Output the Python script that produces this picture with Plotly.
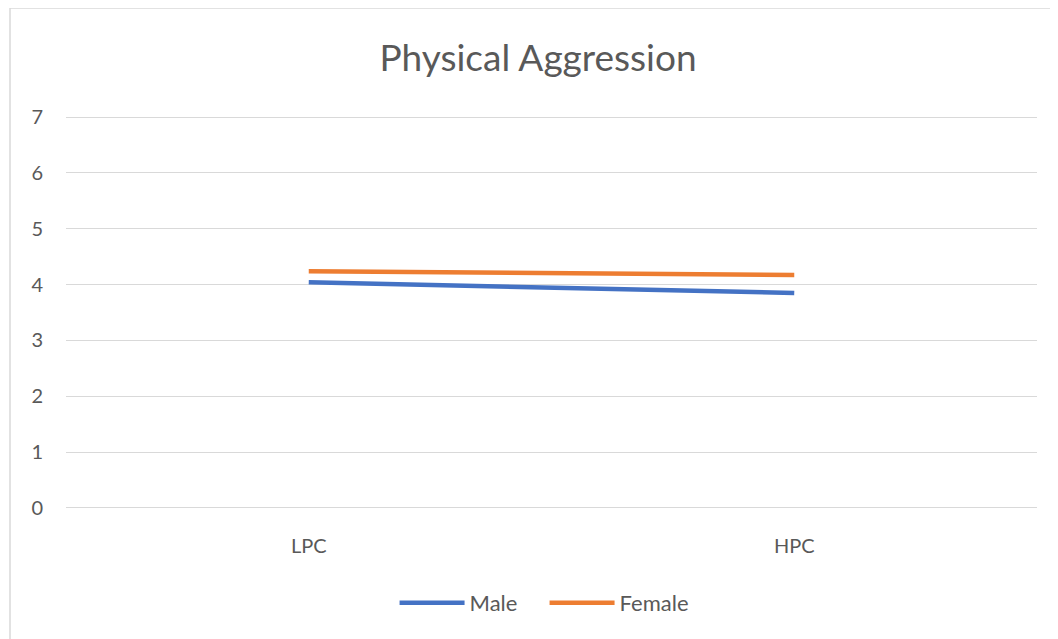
import plotly.graph_objects as go

categories = ["LPC", "HPC"]
male = [4.04, 3.85]
female = [4.24, 4.17]
y_ticks = [0, 1, 2, 3, 4, 5, 6, 7]
title_text = "Physical Aggression"

# page body has an 8px margin, so figure coordinates are offset by 8px
W, H = 1050, 631
L, R, T, B = 58, 21, 108, 130
PH = H - T - B
PW = W - L - R
ypad = 0.02

fig = go.Figure()
fig.add_trace(go.Scatter(x=categories, y=male, mode="lines", name="Male",
                         line=dict(color="#4472C4", width=4.5)))
fig.add_trace(go.Scatter(x=categories, y=female, mode="lines", name="Female",
                         line=dict(color="#ED7D31", width=4.5)))

font_family = "Lato, Open Sans, sans-serif"
gray = "#595959"

fig.update_layout(
    width=W, height=H,
    margin=dict(l=L, r=R, t=T, b=B),
    paper_bgcolor="white", plot_bgcolor="white",
    title=dict(text=title_text, x=530 / W, xanchor="center", y=1 - 50 / H, yanchor="middle",
               font=dict(family=font_family, size=37, color=gray)),
    xaxis=dict(type="category", range=[-0.5, 1.5], showgrid=False, zeroline=False,
               showline=False, ticks="", tickfont=dict(family=font_family, size=20, color=gray),
               ticklabelstandoff=23),
    yaxis=dict(range=[-ypad, 7 + ypad], tickvals=y_ticks, showgrid=True, gridcolor="#D9D9D9",
               gridwidth=1.3, zeroline=False, showline=False, ticks="",
               tickfont=dict(family=font_family, size=20, color=gray), ticklabelstandoff=22),
    legend=dict(orientation="h", x=(L + PW / 2 - 26) / W, xref="paper", xanchor="center",
                y=-(595 - (H - B)) / PH, yanchor="middle",
                font=dict(family=font_family, size=22, color=gray),
                itemwidth=65, entrywidth=70, entrywidthmode="pixels", traceorder="normal"),
    showlegend=True,
    shapes=[dict(type="rect", xref="paper", yref="paper",
                 x0=(2 - L) / PW, x1=(W + 20 - L) / PW,
                 y0=-(H + 20 - (H - B)) / PH, y1=1 + (T - 0) / PH,
                 line=dict(color="#D9D9D9", width=1.5), layer="below")],
)

fig.write_html("out.html")
